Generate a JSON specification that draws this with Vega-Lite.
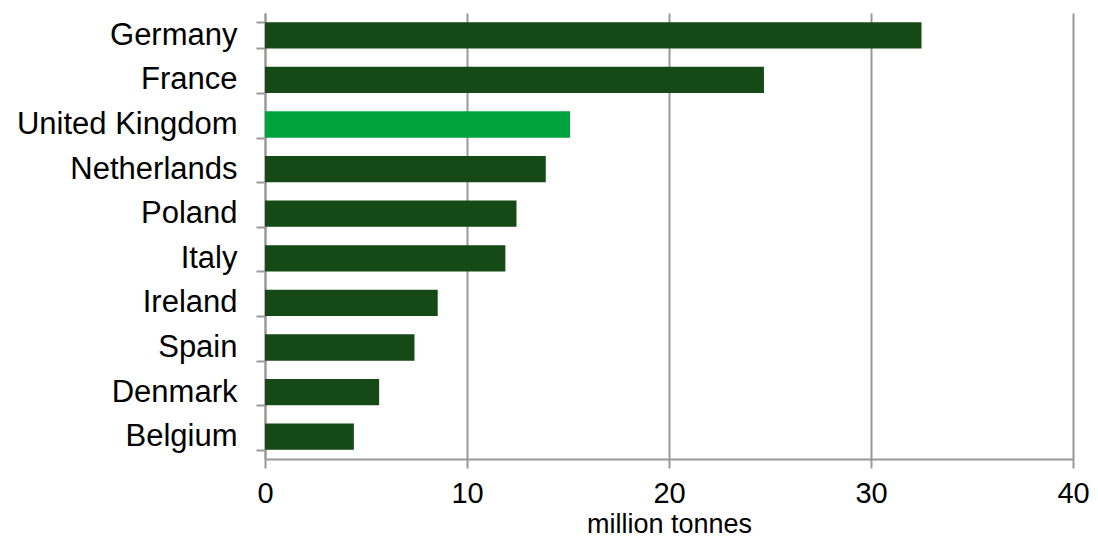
{
  "$schema": "https://vega.github.io/schema/vega-lite/v6.json",
  "width": 808,
  "height": 446,
  "autosize": {"type": "none"},
  "padding": {"left": 265, "top": 13, "right": 25, "bottom": 79},
  "background": "white",
  "config": {
    "view": {"stroke": null},
    "font": "Liberation Sans"
  },
  "data": {
    "values": [
      {"country": "Germany", "value": 32.5, "group": "other"},
      {"country": "France", "value": 24.7, "group": "other"},
      {"country": "United Kingdom", "value": 15.1, "group": "UK"},
      {"country": "Netherlands", "value": 13.9, "group": "other"},
      {"country": "Poland", "value": 12.45, "group": "other"},
      {"country": "Italy", "value": 11.9, "group": "other"},
      {"country": "Ireland", "value": 8.55, "group": "other"},
      {"country": "Spain", "value": 7.4, "group": "other"},
      {"country": "Denmark", "value": 5.65, "group": "other"},
      {"country": "Belgium", "value": 4.4, "group": "other"}
    ]
  },
  "mark": {"type": "bar"},
  "encoding": {
    "y": {
      "field": "country",
      "type": "nominal",
      "sort": null,
      "scale": {"paddingInner": 0.41, "paddingOuter": 0.205},
      "axis": {
        "title": null,
        "domainColor": "#999999",
        "domainWidth": 2,
        "tickColor": "#999999",
        "tickWidth": 2,
        "tickSize": 9,
        "tickBand": "extent",
        "labelFontSize": 31,
        "labelLimit": 0,
        "labelColor": "#000000",
        "labelPadding": 19,
        "grid": false
      }
    },
    "x": {
      "field": "value",
      "type": "quantitative",
      "scale": {"domain": [0, 40], "nice": false},
      "axis": {
        "values": [0, 10, 20, 30, 40],
        "title": "million tonnes",
        "titleFontSize": 27,
        "titleFontWeight": "normal",
        "titleColor": "#000000",
        "titleBaseline": "alphabetic",
        "titleY": 73,
        "domainColor": "#999999",
        "domainWidth": 2,
        "tickColor": "#999999",
        "tickWidth": 2,
        "tickSize": 9,
        "labelFontSize": 29,
        "labelColor": "#000000",
        "labelPadding": 11,
        "labelFlush": false,
        "grid": true,
        "gridColor": "#999999",
        "gridWidth": 2
      }
    },
    "color": {
      "field": "group",
      "type": "nominal",
      "scale": {"domain": ["other", "UK"], "range": ["#154a16", "#00a33b"]},
      "legend": null
    }
  }
}
